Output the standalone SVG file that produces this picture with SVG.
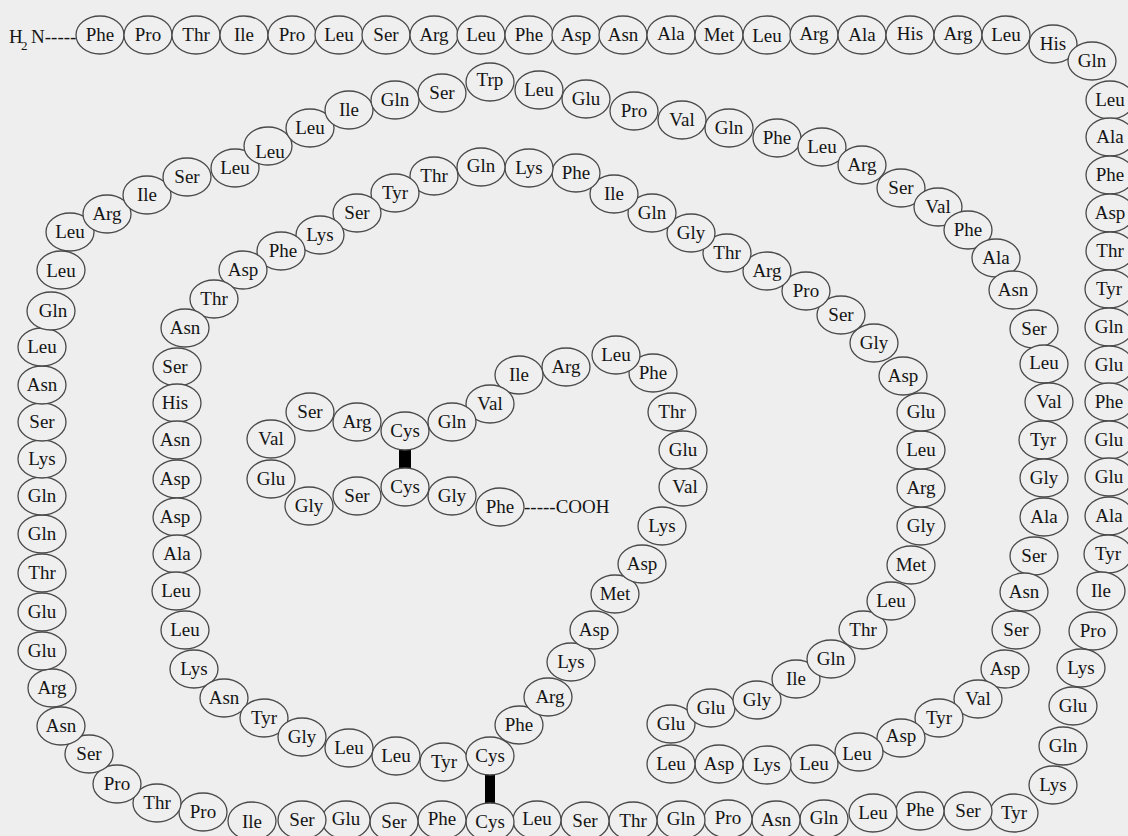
<svg xmlns="http://www.w3.org/2000/svg" width="1128" height="836" viewBox="0 0 1128 836">
<style>
.n ellipse{fill:#efefef;stroke:#4a4a4a;stroke-width:1.3}
.n text,.t{font-family:"Liberation Serif","Times New Roman",serif;font-size:19px;fill:#151515}
.n text{text-anchor:middle}
.bond{fill:#000}
</style>
<rect x="0" y="0" width="1128" height="836" fill="#eeeeee"/>
<g id="terminals">
<text class="t" x="9" y="43">H</text>
<text class="t" x="21" y="50" style="font-size:13px">2</text>
<text class="t" x="31" y="43">N-----</text>
<text class="t" x="524" y="513">-----COOH</text>
</g>
<g id="connectors">
<rect class="bond" x="399" y="450" width="12" height="18"/>
<rect class="bond" x="485" y="774" width="10" height="30"/>
</g>
<g id="r1" class="n"><ellipse cx="100" cy="35" rx="24" ry="19"/><text x="100" y="41">Phe</text></g>
<g id="r2" class="n"><ellipse cx="148" cy="35" rx="24" ry="19"/><text x="148" y="41">Pro</text></g>
<g id="r3" class="n"><ellipse cx="196" cy="35" rx="24" ry="19"/><text x="196" y="41">Thr</text></g>
<g id="r4" class="n"><ellipse cx="244" cy="35" rx="24" ry="19"/><text x="244" y="41">Ile</text></g>
<g id="r5" class="n"><ellipse cx="292" cy="35" rx="24" ry="19"/><text x="292" y="41">Pro</text></g>
<g id="r6" class="n"><ellipse cx="339" cy="35" rx="24" ry="19"/><text x="339" y="41">Leu</text></g>
<g id="r7" class="n"><ellipse cx="386" cy="35" rx="24" ry="19"/><text x="386" y="41">Ser</text></g>
<g id="r8" class="n"><ellipse cx="434" cy="35" rx="24" ry="19"/><text x="434" y="41">Arg</text></g>
<g id="r9" class="n"><ellipse cx="481" cy="35" rx="24" ry="19"/><text x="481" y="41">Leu</text></g>
<g id="r10" class="n"><ellipse cx="529" cy="35" rx="24" ry="19"/><text x="529" y="41">Phe</text></g>
<g id="r11" class="n"><ellipse cx="576" cy="35" rx="24" ry="19"/><text x="576" y="41">Asp</text></g>
<g id="r12" class="n"><ellipse cx="623" cy="35" rx="24" ry="19"/><text x="623" y="41">Asn</text></g>
<g id="r13" class="n"><ellipse cx="671" cy="35" rx="24" ry="19"/><text x="671" y="40">Ala</text></g>
<g id="r14" class="n"><ellipse cx="719" cy="35" rx="24" ry="19"/><text x="719" y="41">Met</text></g>
<g id="r15" class="n"><ellipse cx="767" cy="35" rx="24" ry="19"/><text x="767" y="42">Leu</text></g>
<g id="r16" class="n"><ellipse cx="814" cy="35" rx="24" ry="19"/><text x="814" y="40">Arg</text></g>
<g id="r17" class="n"><ellipse cx="862" cy="35" rx="24" ry="19"/><text x="862" y="41">Ala</text></g>
<g id="r18" class="n"><ellipse cx="910" cy="35" rx="24" ry="19"/><text x="910" y="40">His</text></g>
<g id="r19" class="n"><ellipse cx="958" cy="35" rx="24" ry="19"/><text x="958" y="40">Arg</text></g>
<g id="r20" class="n"><ellipse cx="1006" cy="35" rx="24" ry="19"/><text x="1006" y="41">Leu</text></g>
<g id="r21" class="n"><ellipse cx="1053" cy="44" rx="24" ry="19"/><text x="1053" y="50">His</text></g>
<g id="r22" class="n"><ellipse cx="1092" cy="61" rx="24" ry="19"/><text x="1092" y="67">Gln</text></g>
<g id="r23" class="n"><ellipse cx="1110" cy="100" rx="24" ry="19"/><text x="1110" y="106">Leu</text></g>
<g id="r24" class="n"><ellipse cx="1110" cy="137" rx="24" ry="19"/><text x="1110" y="143">Ala</text></g>
<g id="r25" class="n"><ellipse cx="1110" cy="175" rx="24" ry="19"/><text x="1110" y="181">Phe</text></g>
<g id="r26" class="n"><ellipse cx="1110" cy="213" rx="24" ry="19"/><text x="1110" y="219">Asp</text></g>
<g id="r27" class="n"><ellipse cx="1110" cy="251" rx="24" ry="19"/><text x="1110" y="257">Thr</text></g>
<g id="r28" class="n"><ellipse cx="1109" cy="289" rx="24" ry="19"/><text x="1109" y="295">Tyr</text></g>
<g id="r29" class="n"><ellipse cx="1109" cy="327" rx="24" ry="19"/><text x="1109" y="333">Gln</text></g>
<g id="r30" class="n"><ellipse cx="1109" cy="365" rx="24" ry="19"/><text x="1109" y="371">Glu</text></g>
<g id="r31" class="n"><ellipse cx="1109" cy="402" rx="24" ry="19"/><text x="1109" y="408">Phe</text></g>
<g id="r32" class="n"><ellipse cx="1109" cy="440" rx="24" ry="19"/><text x="1109" y="446">Glu</text></g>
<g id="r33" class="n"><ellipse cx="1109" cy="477" rx="24" ry="19"/><text x="1109" y="483">Glu</text></g>
<g id="r34" class="n"><ellipse cx="1109" cy="516" rx="24" ry="19"/><text x="1109" y="522">Ala</text></g>
<g id="r35" class="n"><ellipse cx="1108" cy="554" rx="24" ry="19"/><text x="1108" y="560">Tyr</text></g>
<g id="r36" class="n"><ellipse cx="1101" cy="591" rx="24" ry="19"/><text x="1101" y="597">Ile</text></g>
<g id="r37" class="n"><ellipse cx="1093" cy="631" rx="24" ry="19"/><text x="1093" y="637">Pro</text></g>
<g id="r38" class="n"><ellipse cx="1081" cy="668" rx="24" ry="19"/><text x="1081" y="674">Lys</text></g>
<g id="r39" class="n"><ellipse cx="1073" cy="706" rx="24" ry="19"/><text x="1073" y="712">Glu</text></g>
<g id="r40" class="n"><ellipse cx="1063" cy="746" rx="24" ry="19"/><text x="1063" y="752">Gln</text></g>
<g id="r41" class="n"><ellipse cx="1053" cy="785" rx="24" ry="19"/><text x="1053" y="791">Lys</text></g>
<g id="r42" class="n"><ellipse cx="1014" cy="813" rx="24" ry="19"/><text x="1014" y="819">Tyr</text></g>
<g id="r43" class="n"><ellipse cx="968" cy="811" rx="24" ry="19"/><text x="968" y="817">Ser</text></g>
<g id="r44" class="n"><ellipse cx="920" cy="811" rx="24" ry="19"/><text x="920" y="816">Phe</text></g>
<g id="r45" class="n"><ellipse cx="873" cy="813" rx="24" ry="19"/><text x="873" y="819">Leu</text></g>
<g id="r46" class="n"><ellipse cx="824" cy="819" rx="24" ry="19"/><text x="824" y="824">Gln</text></g>
<g id="r47" class="n"><ellipse cx="776" cy="820" rx="24" ry="19"/><text x="776" y="826">Asn</text></g>
<g id="r48" class="n"><ellipse cx="728" cy="819" rx="24" ry="19"/><text x="728" y="824">Pro</text></g>
<g id="r49" class="n"><ellipse cx="681" cy="820" rx="24" ry="19"/><text x="681" y="825">Gln</text></g>
<g id="r50" class="n"><ellipse cx="633" cy="821" rx="24" ry="19"/><text x="633" y="827">Thr</text></g>
<g id="r51" class="n"><ellipse cx="585" cy="821" rx="24" ry="19"/><text x="585" y="827">Ser</text></g>
<g id="r52" class="n"><ellipse cx="537" cy="820" rx="24" ry="19"/><text x="537" y="825">Leu</text></g>
<g id="r53" class="n"><ellipse cx="490" cy="822" rx="24" ry="19"/><text x="490" y="828">Cys</text></g>
<g id="r54" class="n"><ellipse cx="442" cy="820" rx="24" ry="19"/><text x="442" y="825">Phe</text></g>
<g id="r55" class="n"><ellipse cx="394" cy="822" rx="24" ry="19"/><text x="394" y="828">Ser</text></g>
<g id="r56" class="n"><ellipse cx="346" cy="820" rx="24" ry="19"/><text x="346" y="825">Glu</text></g>
<g id="r57" class="n"><ellipse cx="302" cy="820" rx="24" ry="19"/><text x="302" y="826">Ser</text></g>
<g id="r58" class="n"><ellipse cx="252" cy="821" rx="24" ry="19"/><text x="252" y="828">Ile</text></g>
<g id="r59" class="n"><ellipse cx="203" cy="812" rx="24" ry="19"/><text x="203" y="818">Pro</text></g>
<g id="r60" class="n"><ellipse cx="157" cy="803" rx="24" ry="19"/><text x="157" y="809">Thr</text></g>
<g id="r61" class="n"><ellipse cx="117" cy="784" rx="24" ry="19"/><text x="117" y="790">Pro</text></g>
<g id="r62" class="n"><ellipse cx="89" cy="754" rx="24" ry="19"/><text x="89" y="760">Ser</text></g>
<g id="r63" class="n"><ellipse cx="61" cy="726" rx="24" ry="19"/><text x="61" y="732">Asn</text></g>
<g id="r64" class="n"><ellipse cx="52" cy="688" rx="24" ry="19"/><text x="52" y="694">Arg</text></g>
<g id="r65" class="n"><ellipse cx="42" cy="651" rx="24" ry="19"/><text x="42" y="657">Glu</text></g>
<g id="r66" class="n"><ellipse cx="42" cy="612" rx="24" ry="19"/><text x="42" y="618">Glu</text></g>
<g id="r67" class="n"><ellipse cx="42" cy="573" rx="24" ry="19"/><text x="42" y="579">Thr</text></g>
<g id="r68" class="n"><ellipse cx="42" cy="534" rx="24" ry="19"/><text x="42" y="540">Gln</text></g>
<g id="r69" class="n"><ellipse cx="42" cy="496" rx="24" ry="19"/><text x="42" y="502">Gln</text></g>
<g id="r70" class="n"><ellipse cx="42" cy="459" rx="24" ry="19"/><text x="42" y="465">Lys</text></g>
<g id="r71" class="n"><ellipse cx="42" cy="422" rx="24" ry="19"/><text x="42" y="428">Ser</text></g>
<g id="r72" class="n"><ellipse cx="42" cy="385" rx="24" ry="19"/><text x="42" y="391">Asn</text></g>
<g id="r73" class="n"><ellipse cx="42" cy="347" rx="24" ry="19"/><text x="42" y="353">Leu</text></g>
<g id="r74" class="n"><ellipse cx="51" cy="311" rx="24" ry="19"/><text x="53" y="317">Gln</text></g>
<g id="r75" class="n"><ellipse cx="61" cy="270" rx="24" ry="19"/><text x="61" y="277">Leu</text></g>
<g id="r76" class="n"><ellipse cx="70" cy="232" rx="24" ry="19"/><text x="70" y="238">Leu</text></g>
<g id="r77" class="n"><ellipse cx="107" cy="214" rx="24" ry="19"/><text x="107" y="220">Arg</text></g>
<g id="r78" class="n"><ellipse cx="147" cy="195" rx="24" ry="19"/><text x="147" y="201">Ile</text></g>
<g id="r79" class="n"><ellipse cx="187" cy="177" rx="24" ry="19"/><text x="187" y="183">Ser</text></g>
<g id="r80" class="n"><ellipse cx="235" cy="168" rx="24" ry="19"/><text x="235" y="174">Leu</text></g>
<g id="r81" class="n"><ellipse cx="268" cy="146" rx="24" ry="19"/><text x="270" y="158">Leu</text></g>
<g id="r82" class="n"><ellipse cx="310" cy="128" rx="24" ry="19"/><text x="310" y="134">Leu</text></g>
<g id="r83" class="n"><ellipse cx="349" cy="110" rx="24" ry="19"/><text x="349" y="116">Ile</text></g>
<g id="r84" class="n"><ellipse cx="395" cy="100" rx="24" ry="19"/><text x="395" y="106">Gln</text></g>
<g id="r85" class="n"><ellipse cx="442" cy="93" rx="24" ry="19"/><text x="442" y="99">Ser</text></g>
<g id="r86" class="n"><ellipse cx="490" cy="82" rx="24" ry="19"/><text x="490" y="86">Trp</text></g>
<g id="r87" class="n"><ellipse cx="539" cy="90" rx="24" ry="19"/><text x="539" y="96">Leu</text></g>
<g id="r88" class="n"><ellipse cx="586" cy="99" rx="24" ry="19"/><text x="586" y="105">Glu</text></g>
<g id="r89" class="n"><ellipse cx="634" cy="111" rx="24" ry="19"/><text x="634" y="117">Pro</text></g>
<g id="r90" class="n"><ellipse cx="682" cy="120" rx="24" ry="19"/><text x="682" y="126">Val</text></g>
<g id="r91" class="n"><ellipse cx="729" cy="128" rx="24" ry="19"/><text x="729" y="134">Gln</text></g>
<g id="r92" class="n"><ellipse cx="777" cy="138" rx="24" ry="19"/><text x="777" y="144">Phe</text></g>
<g id="r93" class="n"><ellipse cx="822" cy="147" rx="24" ry="19"/><text x="822" y="153">Leu</text></g>
<g id="r94" class="n"><ellipse cx="862" cy="165" rx="24" ry="19"/><text x="862" y="171">Arg</text></g>
<g id="r95" class="n"><ellipse cx="901" cy="188" rx="24" ry="19"/><text x="901" y="194">Ser</text></g>
<g id="r96" class="n"><ellipse cx="938" cy="207" rx="24" ry="19"/><text x="938" y="213">Val</text></g>
<g id="r97" class="n"><ellipse cx="968" cy="230" rx="24" ry="19"/><text x="968" y="236">Phe</text></g>
<g id="r98" class="n"><ellipse cx="996" cy="258" rx="24" ry="19"/><text x="996" y="264">Ala</text></g>
<g id="r99" class="n"><ellipse cx="1013" cy="290" rx="24" ry="19"/><text x="1013" y="296">Asn</text></g>
<g id="r100" class="n"><ellipse cx="1034" cy="329" rx="24" ry="19"/><text x="1034" y="335">Ser</text></g>
<g id="r101" class="n"><ellipse cx="1044" cy="364" rx="24" ry="19"/><text x="1044" y="369">Leu</text></g>
<g id="r102" class="n"><ellipse cx="1049" cy="402" rx="24" ry="19"/><text x="1049" y="408">Val</text></g>
<g id="r103" class="n"><ellipse cx="1043" cy="440" rx="24" ry="19"/><text x="1043" y="446">Tyr</text></g>
<g id="r104" class="n"><ellipse cx="1044" cy="478" rx="24" ry="19"/><text x="1044" y="484">Gly</text></g>
<g id="r105" class="n"><ellipse cx="1044" cy="517" rx="24" ry="19"/><text x="1044" y="523">Ala</text></g>
<g id="r106" class="n"><ellipse cx="1034" cy="556" rx="24" ry="19"/><text x="1034" y="562">Ser</text></g>
<g id="r107" class="n"><ellipse cx="1024" cy="592" rx="24" ry="19"/><text x="1024" y="598">Asn</text></g>
<g id="r108" class="n"><ellipse cx="1016" cy="630" rx="24" ry="19"/><text x="1016" y="636">Ser</text></g>
<g id="r109" class="n"><ellipse cx="1005" cy="669" rx="24" ry="19"/><text x="1005" y="675">Asp</text></g>
<g id="r110" class="n"><ellipse cx="978" cy="699" rx="24" ry="19"/><text x="978" y="705">Val</text></g>
<g id="r111" class="n"><ellipse cx="939" cy="718" rx="24" ry="19"/><text x="939" y="724">Tyr</text></g>
<g id="r112" class="n"><ellipse cx="901" cy="738" rx="24" ry="19"/><text x="901" y="742">Asp</text></g>
<g id="r113" class="n"><ellipse cx="859" cy="752" rx="24" ry="19"/><text x="857" y="760">Leu</text></g>
<g id="r114" class="n"><ellipse cx="814" cy="764" rx="24" ry="19"/><text x="814" y="770">Leu</text></g>
<g id="r115" class="n"><ellipse cx="767" cy="765" rx="24" ry="19"/><text x="767" y="771">Lys</text></g>
<g id="r116" class="n"><ellipse cx="719" cy="764" rx="24" ry="19"/><text x="719" y="770">Asp</text></g>
<g id="r117" class="n"><ellipse cx="671" cy="764" rx="24" ry="19"/><text x="671" y="770">Leu</text></g>
<g id="r118" class="n"><ellipse cx="671" cy="724" rx="24" ry="19"/><text x="671" y="730">Glu</text></g>
<g id="r119" class="n"><ellipse cx="711" cy="708" rx="24" ry="19"/><text x="711" y="714">Glu</text></g>
<g id="r120" class="n"><ellipse cx="757" cy="700" rx="24" ry="19"/><text x="757" y="706">Gly</text></g>
<g id="r121" class="n"><ellipse cx="796" cy="679" rx="24" ry="19"/><text x="796" y="685">Ile</text></g>
<g id="r122" class="n"><ellipse cx="831" cy="659" rx="24" ry="19"/><text x="831" y="665">Gln</text></g>
<g id="r123" class="n"><ellipse cx="863" cy="630" rx="24" ry="19"/><text x="863" y="636">Thr</text></g>
<g id="r124" class="n"><ellipse cx="891" cy="601" rx="24" ry="19"/><text x="891" y="607">Leu</text></g>
<g id="r125" class="n"><ellipse cx="911" cy="565" rx="24" ry="19"/><text x="911" y="571">Met</text></g>
<g id="r126" class="n"><ellipse cx="921" cy="526" rx="24" ry="19"/><text x="921" y="532">Gly</text></g>
<g id="r127" class="n"><ellipse cx="921" cy="488" rx="24" ry="19"/><text x="921" y="494">Arg</text></g>
<g id="r128" class="n"><ellipse cx="921" cy="450" rx="24" ry="19"/><text x="921" y="456">Leu</text></g>
<g id="r129" class="n"><ellipse cx="921" cy="412" rx="24" ry="19"/><text x="921" y="418">Glu</text></g>
<g id="r130" class="n"><ellipse cx="903" cy="376" rx="24" ry="19"/><text x="903" y="382">Asp</text></g>
<g id="r131" class="n"><ellipse cx="874" cy="343" rx="24" ry="19"/><text x="874" y="349">Gly</text></g>
<g id="r132" class="n"><ellipse cx="841" cy="315" rx="24" ry="19"/><text x="841" y="321">Ser</text></g>
<g id="r133" class="n"><ellipse cx="806" cy="291" rx="24" ry="19"/><text x="806" y="297">Pro</text></g>
<g id="r134" class="n"><ellipse cx="767" cy="271" rx="24" ry="19"/><text x="767" y="277">Arg</text></g>
<g id="r135" class="n"><ellipse cx="727" cy="253" rx="24" ry="19"/><text x="727" y="259">Thr</text></g>
<g id="r136" class="n"><ellipse cx="691" cy="233" rx="24" ry="19"/><text x="691" y="239">Gly</text></g>
<g id="r137" class="n"><ellipse cx="652" cy="213" rx="24" ry="19"/><text x="652" y="219">Gln</text></g>
<g id="r138" class="n"><ellipse cx="614" cy="194" rx="24" ry="19"/><text x="614" y="200">Ile</text></g>
<g id="r139" class="n"><ellipse cx="576" cy="173" rx="24" ry="19"/><text x="576" y="179">Phe</text></g>
<g id="r140" class="n"><ellipse cx="529" cy="168" rx="24" ry="19"/><text x="529" y="174">Lys</text></g>
<g id="r141" class="n"><ellipse cx="481" cy="167" rx="24" ry="19"/><text x="481" y="172">Gln</text></g>
<g id="r142" class="n"><ellipse cx="434" cy="176" rx="24" ry="19"/><text x="434" y="182">Thr</text></g>
<g id="r143" class="n"><ellipse cx="395" cy="193" rx="24" ry="19"/><text x="395" y="199">Tyr</text></g>
<g id="r144" class="n"><ellipse cx="357" cy="213" rx="24" ry="19"/><text x="357" y="219">Ser</text></g>
<g id="r145" class="n"><ellipse cx="320" cy="235" rx="24" ry="19"/><text x="320" y="241">Lys</text></g>
<g id="r146" class="n"><ellipse cx="281" cy="251" rx="24" ry="19"/><text x="283" y="257">Phe</text></g>
<g id="r147" class="n"><ellipse cx="243" cy="270" rx="24" ry="19"/><text x="243" y="276">Asp</text></g>
<g id="r148" class="n"><ellipse cx="214" cy="299" rx="24" ry="19"/><text x="214" y="305">Thr</text></g>
<g id="r149" class="n"><ellipse cx="185" cy="328" rx="24" ry="19"/><text x="185" y="334">Asn</text></g>
<g id="r150" class="n"><ellipse cx="177" cy="367" rx="24" ry="19"/><text x="175" y="373">Ser</text></g>
<g id="r151" class="n"><ellipse cx="177" cy="403" rx="24" ry="19"/><text x="175" y="409">His</text></g>
<g id="r152" class="n"><ellipse cx="177" cy="440" rx="24" ry="19"/><text x="175" y="446">Asn</text></g>
<g id="r153" class="n"><ellipse cx="177" cy="479" rx="24" ry="19"/><text x="175" y="485">Asp</text></g>
<g id="r154" class="n"><ellipse cx="177" cy="517" rx="24" ry="19"/><text x="175" y="523">Asp</text></g>
<g id="r155" class="n"><ellipse cx="177" cy="554" rx="24" ry="19"/><text x="177" y="560">Ala</text></g>
<g id="r156" class="n"><ellipse cx="176" cy="591" rx="24" ry="19"/><text x="176" y="597">Leu</text></g>
<g id="r157" class="n"><ellipse cx="185" cy="630" rx="24" ry="19"/><text x="185" y="636">Leu</text></g>
<g id="r158" class="n"><ellipse cx="194" cy="669" rx="24" ry="19"/><text x="194" y="675">Lys</text></g>
<g id="r159" class="n"><ellipse cx="224" cy="698" rx="24" ry="19"/><text x="224" y="704">Asn</text></g>
<g id="r160" class="n"><ellipse cx="264" cy="718" rx="24" ry="19"/><text x="264" y="724">Tyr</text></g>
<g id="r161" class="n"><ellipse cx="302" cy="737" rx="24" ry="19"/><text x="302" y="743">Gly</text></g>
<g id="r162" class="n"><ellipse cx="349" cy="748" rx="24" ry="19"/><text x="349" y="754">Leu</text></g>
<g id="r163" class="n"><ellipse cx="396" cy="756" rx="24" ry="19"/><text x="396" y="762">Leu</text></g>
<g id="r164" class="n"><ellipse cx="444" cy="762" rx="24" ry="19"/><text x="444" y="768">Tyr</text></g>
<g id="r165" class="n"><ellipse cx="490" cy="756" rx="24" ry="19"/><text x="490" y="762">Cys</text></g>
<g id="r166" class="n"><ellipse cx="519" cy="725" rx="24" ry="19"/><text x="519" y="731">Phe</text></g>
<g id="r167" class="n"><ellipse cx="548" cy="697" rx="24" ry="19"/><text x="550" y="703">Arg</text></g>
<g id="r168" class="n"><ellipse cx="571" cy="662" rx="24" ry="19"/><text x="571" y="668">Lys</text></g>
<g id="r169" class="n"><ellipse cx="594" cy="630" rx="24" ry="19"/><text x="594" y="636">Asp</text></g>
<g id="r170" class="n"><ellipse cx="615" cy="594" rx="24" ry="19"/><text x="615" y="600">Met</text></g>
<g id="r171" class="n"><ellipse cx="642" cy="564" rx="24" ry="19"/><text x="642" y="570">Asp</text></g>
<g id="r172" class="n"><ellipse cx="662" cy="526" rx="24" ry="19"/><text x="662" y="532">Lys</text></g>
<g id="r173" class="n"><ellipse cx="683" cy="487" rx="24" ry="19"/><text x="685" y="493">Val</text></g>
<g id="r174" class="n"><ellipse cx="683" cy="450" rx="24" ry="19"/><text x="683" y="456">Glu</text></g>
<g id="r175" class="n"><ellipse cx="672" cy="412" rx="24" ry="19"/><text x="672" y="418">Thr</text></g>
<g id="r176" class="n"><ellipse cx="653" cy="373" rx="24" ry="19"/><text x="653" y="379">Phe</text></g>
<g id="r177" class="n"><ellipse cx="616" cy="355" rx="24" ry="19"/><text x="616" y="361">Leu</text></g>
<g id="r178" class="n"><ellipse cx="566" cy="367" rx="24" ry="19"/><text x="566" y="373">Arg</text></g>
<g id="r179" class="n"><ellipse cx="519" cy="375" rx="24" ry="19"/><text x="519" y="381">Ile</text></g>
<g id="r180" class="n"><ellipse cx="490" cy="404" rx="24" ry="19"/><text x="490" y="410">Val</text></g>
<g id="r181" class="n"><ellipse cx="452" cy="422" rx="24" ry="19"/><text x="452" y="428">Gln</text></g>
<g id="r182" class="n"><ellipse cx="405" cy="431" rx="24" ry="19"/><text x="405" y="437">Cys</text></g>
<g id="r183" class="n"><ellipse cx="357" cy="422" rx="24" ry="19"/><text x="357" y="428">Arg</text></g>
<g id="r184" class="n"><ellipse cx="310" cy="412" rx="24" ry="19"/><text x="310" y="418">Ser</text></g>
<g id="r185" class="n"><ellipse cx="271" cy="439" rx="24" ry="19"/><text x="271" y="445">Val</text></g>
<g id="r186" class="n"><ellipse cx="271" cy="479" rx="24" ry="19"/><text x="271" y="485">Glu</text></g>
<g id="r187" class="n"><ellipse cx="309" cy="506" rx="24" ry="19"/><text x="309" y="512">Gly</text></g>
<g id="r188" class="n"><ellipse cx="357" cy="496" rx="24" ry="19"/><text x="357" y="502">Ser</text></g>
<g id="r189" class="n"><ellipse cx="405" cy="487" rx="24" ry="19"/><text x="405" y="493">Cys</text></g>
<g id="r190" class="n"><ellipse cx="452" cy="496" rx="24" ry="19"/><text x="452" y="502">Gly</text></g>
<g id="r191" class="n"><ellipse cx="500" cy="507" rx="24" ry="19"/><text x="500" y="513">Phe</text></g>
</svg>
